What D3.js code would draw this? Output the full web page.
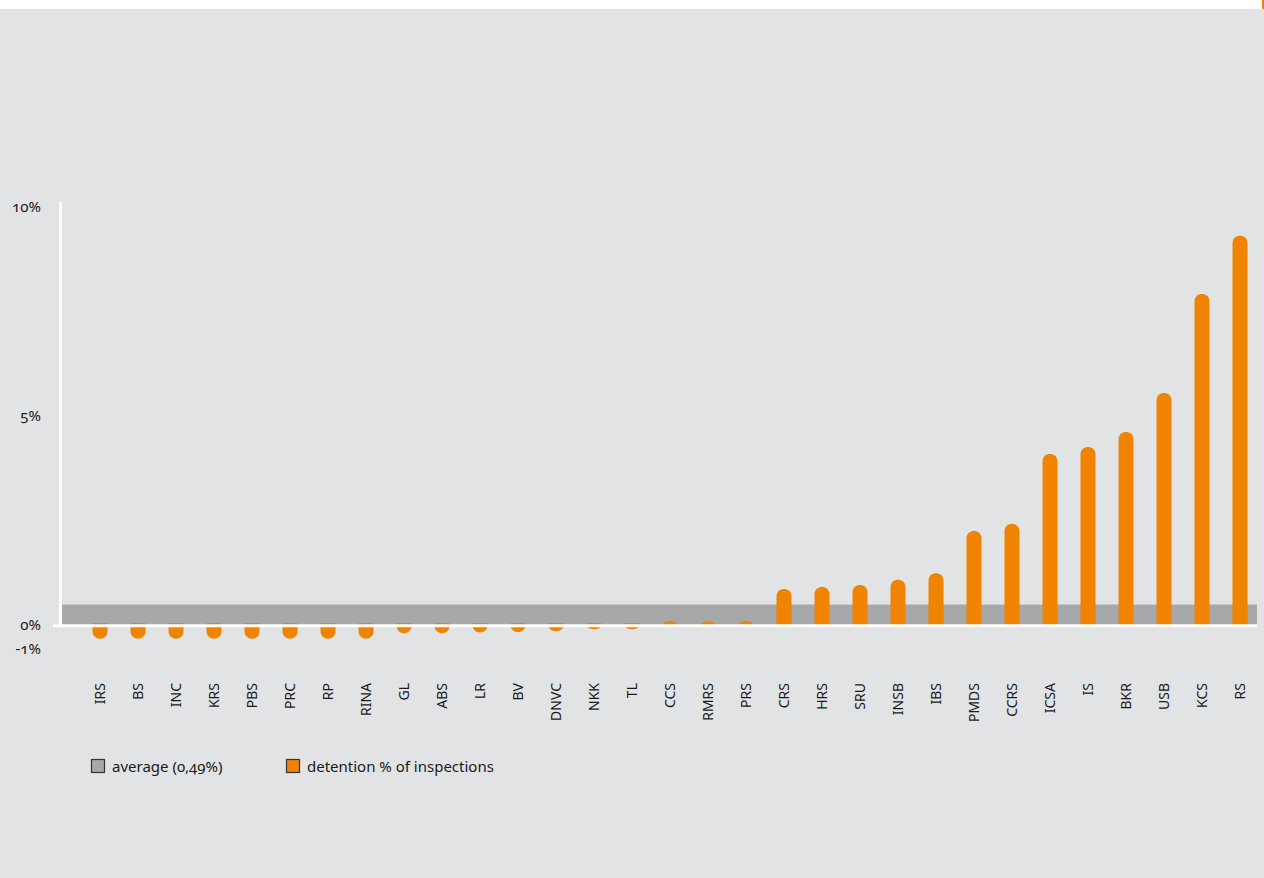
<!DOCTYPE html>
<html>
<head>
<meta charset="utf-8">
<script src="https://cdn.jsdelivr.net/npm/d3@7"></script>
<style>
  html, body { margin: 0; padding: 0; background: #ffffff; }
  svg { display: block; }
  text { font-family: "Noto Sans", "Open Sans", sans-serif; fill: #1a1a1a; }
  .num { font-variant-numeric: oldstyle-nums; font-feature-settings: "onum"; }
</style>
</head>
<body>
<svg id="chart"></svg>
<script>
var width = 1264;
var height = 878;

// data
var societies = ["IRS","BS","INC","KRS","PBS","PRC","RP","RINA","GL","ABS","LR","BV","DNVC","NKK","TL",
                 "CCS","RMRS","PRS","CRS","HRS","SRU","INSB","IBS","PMDS","CCRS","ICSA","IS","BKR","USB","KCS","RS"];
var detention = [-0.33,-0.33,-0.33,-0.33,-0.33,-0.33,-0.33,-0.33,-0.2,-0.2,-0.18,-0.17,-0.15,-0.1,-0.1,
                 0.09,0.09,0.09,0.86,0.91,0.96,1.08,1.24,2.25,2.42,4.09,4.26,4.62,5.55,7.92,9.31];
var average = 0.49;
var yTicks = [10, 5, 0];
var yTickLabels = ["10%", "5%", "0%"];
var legendLabels = ["average (0,49%)", "detention % of inspections"];

var orange = "#f08300";
var grey = "#a7a8aa";

var svg = d3.select("#chart")
    .attr("width", width)
    .attr("height", height);

// background, white strip on top
svg.append("rect").attr("x", 0).attr("y", 0).attr("width", width).attr("height", height).attr("fill", "#ffffff");
svg.append("rect").attr("x", 0).attr("y", 9).attr("width", width).attr("height", height - 9).attr("fill", "#e2e3e5");
svg.append("rect").attr("x", 1262).attr("y", 0).attr("width", 2).attr("height", 9).attr("fill", orange);

var y = d3.scaleLinear().domain([0, 10]).range([625, 207]);
var x = d3.scaleBand().domain(societies).range([81, 1259]).paddingInner(0.6).paddingOuter(0.3);

// average band
svg.append("rect")
    .attr("x", 62)
    .attr("y", y(average))
    .attr("width", 1257 - 62)
    .attr("height", y(0) - y(average))
    .attr("fill", grey);

// bars with a rounded end
var bw = 15;
function barPath(d, i) {
  var cx = x(societies[i]) + x.bandwidth() / 2;
  var x0 = cx - bw / 2, x1 = cx + bw / 2;
  var y0 = y(0), y1 = y(d);
  var len = Math.abs(y1 - y0);
  var r = Math.min(bw / 2, len);
  var p = d3.path();
  if (d >= 0) {
    p.moveTo(x0, y0 + 2);
    p.lineTo(x0, y1 + r);
    p.bezierCurveTo(x0, y1 + r - r * 1.33, x1, y1 + r - r * 1.33, x1, y1 + r);
    p.lineTo(x1, y0 + 2);
  } else {
    p.moveTo(x0, y0 - 2);
    p.lineTo(x0, y1 - r);
    p.bezierCurveTo(x0, y1 - r + r * 1.33, x1, y1 - r + r * 1.33, x1, y1 - r);
    p.lineTo(x1, y0 - 2);
  }
  p.closePath();
  return p.toString();
}

svg.append("g").selectAll("path")
    .data(detention)
    .join("path")
    .attr("d", barPath)
    .attr("fill", orange);

// axes lines
svg.append("line")
    .attr("x1", 53).attr("x2", 1257)
    .attr("y1", y(0) + 0.8).attr("y2", y(0) + 0.8)
    .attr("stroke", "#ffffff").attr("stroke-width", 3);
svg.append("line")
    .attr("x1", 60.5).attr("x2", 60.5)
    .attr("y1", y(10.12)).attr("y2", y(0) + 2)
    .attr("stroke", "#ffffff").attr("stroke-width", 3);

// y tick labels
svg.append("g").selectAll("text")
    .data(yTicks)
    .join("text")
    .attr("class", "num")
    .attr("x", 41)
    .attr("y", function(d) { return y(d); })
    .attr("dy", "0.35em")
    .attr("text-anchor", "end")
    .style("font-size", "15px")
    .text(function(d, i) { return yTickLabels[i]; });

svg.append("text")
    .attr("class", "num")
    .attr("x", 41)
    .attr("y", y(0) + 24)
    .attr("dy", "0.35em")
    .attr("text-anchor", "end")
    .style("font-size", "15px")
    .text("-1%");

// x labels, rotated
svg.append("g").selectAll("text")
    .data(societies)
    .join("text")
    .attr("transform", function(d) {
      return "translate(" + (x(d) + x.bandwidth() / 2 + 5) + ",683) rotate(-90)";
    })
    .attr("text-anchor", "end")
    .style("font-size", "14px")
    .text(function(d) { return d; });

// legend
var legendX = [91, 286];
var legendFill = [grey, orange];
var legend = svg.append("g").selectAll("g")
    .data(legendLabels)
    .join("g")
    .attr("transform", function(d, i) { return "translate(" + legendX[i] + ",759)"; });
legend.append("rect")
    .attr("x", 0.5).attr("y", 0.5)
    .attr("width", 13).attr("height", 13)
    .attr("fill", function(d, i) { return legendFill[i]; })
    .attr("stroke", "#333333").attr("stroke-width", 1.2);
legend.append("text")
    .attr("class", "num")
    .attr("x", 21)
    .attr("y", 13)
    .style("font-size", "15px")
    .text(function(d) { return d; });
</script>
</body>
</html>
